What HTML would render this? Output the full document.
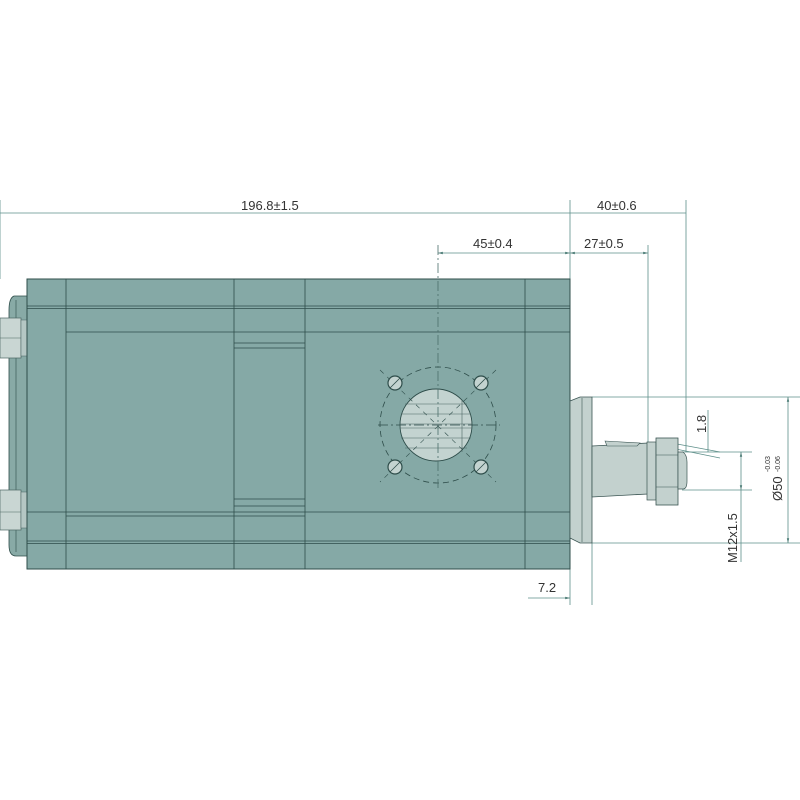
<!DOCTYPE html>
<html><head><meta charset="utf-8"><style>
html,body{margin:0;padding:0;background:#fff}
svg{display:block}
text{font-family:"Liberation Sans",sans-serif;font-size:13px;fill:#333}
</style></head><body>
<svg width="800" height="800" viewBox="0 0 800 800" xmlns="http://www.w3.org/2000/svg">
<defs><marker id="a" markerWidth="6" markerHeight="6" refX="6" refY="3" orient="auto-start-reverse"><path d="M0,1.5 L6,3 L0,4.5z" fill="#4a7a74"/></marker></defs>
<g stroke="#5e8f8a" stroke-width="0.8" fill="none">
<line x1="0" y1="213" x2="570" y2="213"/>
<line x1="570" y1="213" x2="686" y2="213"/>
<line x1="570" y1="200" x2="570" y2="279"/>
<line x1="686" y1="200" x2="686" y2="452"/>
<line x1="0" y1="200" x2="0" y2="279"/>
<line x1="438" y1="253" x2="570" y2="253" marker-start="url(#a)" marker-end="url(#a)"/>
<line x1="570" y1="253" x2="648" y2="253" marker-start="url(#a)" marker-end="url(#a)"/>
<line x1="648" y1="245" x2="648" y2="445"/>
<line x1="592" y1="397" x2="800" y2="397"/>
<line x1="592" y1="543" x2="800" y2="543"/>
<line x1="788" y1="397" x2="788" y2="543" marker-start="url(#a)" marker-end="url(#a)"/>
<line x1="682" y1="452" x2="752" y2="452"/>
<line x1="682" y1="490" x2="752" y2="490"/>
<line x1="741" y1="452" x2="741" y2="490" marker-start="url(#a)" marker-end="url(#a)"/>
<line x1="741" y1="490" x2="741" y2="562"/>
<line x1="661" y1="446" x2="720" y2="458"/>
<line x1="661" y1="441" x2="720" y2="452"/>
<line x1="708" y1="410" x2="708" y2="452"/>
<line x1="570" y1="569" x2="570" y2="605"/>
<line x1="592" y1="543" x2="592" y2="605"/>
<line x1="528" y1="598" x2="570" y2="598" marker-end="url(#a)"/>
</g>
<text x="241" y="210">196.8±1.5</text>
<text x="597" y="210">40±0.6</text>
<text x="473" y="248">45±0.4</text>
<text x="584" y="248">27±0.5</text>
<text x="538" y="592">7.2</text>
<text transform="translate(706,433) rotate(-90)">1.8</text>
<text transform="translate(737,563) rotate(-90)">M12x1.5</text>
<text transform="translate(782,501) rotate(-90)">Ø50</text>
<text transform="translate(770,472) rotate(-90)" style="font-size:7px">-0.03</text>
<text transform="translate(780,472) rotate(-90)" style="font-size:7px">-0.06</text>
<path d="M27,296 L14,296 Q9,298 9,310 L9,545 Q9,556 16,556 L27,556z" fill="#88aaa6" stroke="#2e4d4a" stroke-width="0.8"/>
<line x1="16" y1="300" x2="16" y2="552" stroke="#2e4d4a" stroke-width="0.6"/>
<rect x="0" y="318" width="21" height="40" fill="#c9d6d3" stroke="#4b6562" stroke-width="0.7"/>
<rect x="21" y="320" width="6" height="36" fill="#b5c7c4" stroke="#4b6562" stroke-width="0.5"/>
<line x1="0" y1="338" x2="21" y2="338" stroke="#4b6562" stroke-width="0.6"/>
<rect x="0" y="490" width="21" height="40" fill="#c9d6d3" stroke="#4b6562" stroke-width="0.7"/>
<rect x="21" y="492" width="6" height="36" fill="#b5c7c4" stroke="#4b6562" stroke-width="0.5"/>
<line x1="0" y1="512" x2="21" y2="512" stroke="#4b6562" stroke-width="0.6"/>
<rect x="27" y="279" width="543" height="290" fill="#85a9a6" stroke="#2e4d4a" stroke-width="1"/>
<g stroke="#2e4d4a" stroke-width="0.8">
<line x1="66" y1="279" x2="66" y2="569"/>
<line x1="234" y1="279" x2="234" y2="569"/>
<line x1="305" y1="279" x2="305" y2="569"/>
<line x1="525" y1="279" x2="525" y2="569"/>
<line x1="27" y1="306" x2="570" y2="306"/>
<line x1="27" y1="308.5" x2="570" y2="308.5"/>
<line x1="66" y1="332" x2="570" y2="332"/>
<line x1="234" y1="343" x2="305" y2="343"/>
<line x1="234" y1="348" x2="305" y2="348"/>
<line x1="234" y1="499" x2="305" y2="499"/>
<line x1="234" y1="506" x2="305" y2="506"/>
<line x1="27" y1="512" x2="570" y2="512"/>
<line x1="66" y1="516" x2="305" y2="516"/>
<line x1="27" y1="541" x2="570" y2="541"/>
<line x1="27" y1="543.5" x2="570" y2="543.5"/>
</g>
<g stroke="#2e4d4a" stroke-width="0.8" fill="none">
<circle cx="438" cy="425" r="58" stroke-dasharray="6,4"/>
</g>
<circle cx="436" cy="425" r="36" fill="#c3d3d0" stroke="#2e4d4a" stroke-width="0.9"/>
<g stroke="#4a6462" stroke-width="0.6">
<line x1="405" y1="404" x2="467" y2="404"/><line x1="401" y1="414" x2="471" y2="414"/>
<line x1="400" y1="424" x2="472" y2="424"/><line x1="400" y1="428" x2="472" y2="428"/>
<line x1="401" y1="438" x2="471" y2="438"/><line x1="405" y1="448" x2="467" y2="448"/>
<line x1="462" y1="400" x2="462" y2="452"/>
</g>
<g stroke="#2e4d4a" stroke-width="0.8" fill="none">
<line x1="438" y1="245" x2="438" y2="488" stroke="#4a6e6a" stroke-dasharray="10,3,2,3"/>
<line x1="378" y1="425" x2="500" y2="425" stroke-dasharray="10,3,2,3"/>
<line x1="380" y1="370" x2="496" y2="482" stroke-dasharray="5,5" stroke-width="0.6"/>
<line x1="496" y1="370" x2="380" y2="482" stroke-dasharray="5,5" stroke-width="0.6"/>
</g>
<g fill="#c3d3d0" stroke="#2e4d4a" stroke-width="1.2">
<circle cx="395" cy="383" r="7"/><circle cx="481" cy="383" r="7"/>
<circle cx="395" cy="467" r="7"/><circle cx="481" cy="467" r="7"/>
</g>
<g stroke="#2e4d4a" stroke-width="0.8">
<line x1="390" y1="388" x2="400" y2="378"/><line x1="476" y1="388" x2="486" y2="378"/>
<line x1="390" y1="472" x2="400" y2="462"/><line x1="476" y1="472" x2="486" y2="462"/>
</g>
<path d="M570,401 L580,397 L592,397 L592,543 L580,543 L570,538z" fill="#c3d1ce" stroke="#3b5553" stroke-width="0.8"/>
<line x1="582" y1="398" x2="582" y2="542" stroke="#3b5553" stroke-width="0.6"/>
<path d="M592,446 L648,443 L648,494 L592,497z" fill="#c3d1ce" stroke="#3b5553" stroke-width="0.8"/>
<path d="M605,441 L640,443 L637,446 L607,446z" fill="#c3d1ce" stroke="#3b5553" stroke-width="0.6"/>
<rect x="647" y="442" width="9" height="58" fill="#c3d1ce" stroke="#3b5553" stroke-width="0.7"/>
<rect x="656" y="438" width="22" height="67" fill="#c3d1ce" stroke="#3b5553" stroke-width="0.8"/>
<line x1="656" y1="455" x2="678" y2="455" stroke="#3b5553" stroke-width="0.6"/>
<line x1="656" y1="487" x2="678" y2="487" stroke="#3b5553" stroke-width="0.6"/>
<path d="M678,452 L683,452 Q687,455 687,462 L687,481 Q687,489 683,489 L678,489z" fill="#c3d1ce" stroke="#3b5553" stroke-width="0.7"/>
</svg>
</body></html>
